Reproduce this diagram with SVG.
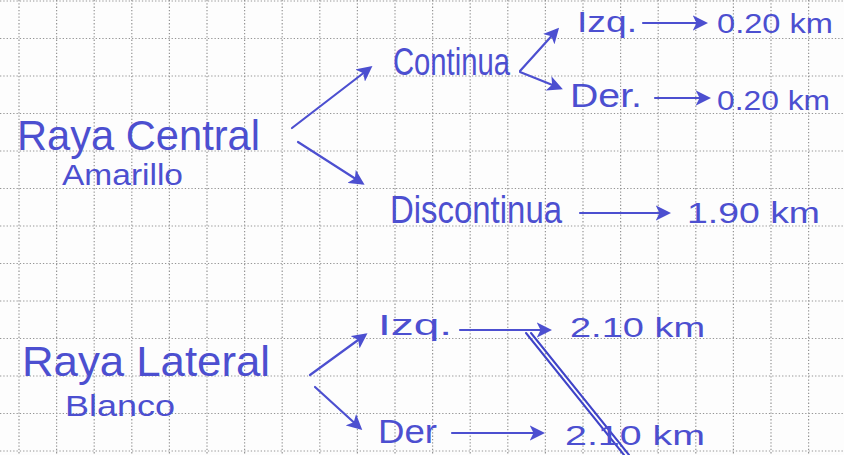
<svg xmlns="http://www.w3.org/2000/svg" width="844" height="455" viewBox="0 0 844 455">
<defs>
<style>
.grid{stroke:#959595;stroke-width:1.2;stroke-dasharray:1.3 2;fill:none}
.t{font-family:"Liberation Sans","DejaVu Sans",sans-serif;fill:#4c4fd0;}
.c{stroke:#4c4fd0;stroke-width:2.2;fill:none;stroke-linecap:round;marker-end:url(#ah)}
.s{stroke:#3f43c8;stroke-width:2;fill:none;stroke-linecap:round}
</style>
<marker id="ah" viewBox="0 0 10 10" refX="8" refY="5" markerWidth="7" markerHeight="7" markerUnits="strokeWidth" orient="auto">
<path d="M0,0 L10,5 L0,10 L2.5,5 Z" fill="#4c4fd0"/>
</marker>
</defs>
<rect width="844" height="455" fill="#fdfdfd"/>
<g id="grid">
<path class="grid" d="M19 0V455M56.6 0V455M94.2 0V455M131.8 0V455M169.4 0V455M207 0V455M244.6 0V455M282.2 0V455M319.8 0V455M357.4 0V455M395 0V455M432.6 0V455M470.2 0V455M507.8 0V455M545.4 0V455M583 0V455M620.6 0V455M658.2 0V455M695.8 0V455M733.4 0V455M771 0V455M808.6 0V455"/>
<path class="grid" d="M0 1H844M0 38.5H844M0 76H844M0 113.5H844M0 151H844M0 188.5H844M0 226H844M0 263.5H844M0 301H844M0 338.5H844M0 376H844M0 413.5H844M0 451H844"/>
</g>
<g id="connectors">
<line class="c" x1="292" y1="128" x2="370" y2="68"/>
<line class="c" x1="298" y1="142" x2="362" y2="183"/>
<line class="c" x1="520" y1="71" x2="557" y2="30"/>
<line class="c" x1="520" y1="72" x2="560" y2="88"/>
<line class="c" x1="643" y1="23" x2="705" y2="23"/>
<line class="c" x1="655" y1="98" x2="708" y2="98"/>
<line class="c" x1="580" y1="213" x2="668" y2="213"/>
<line class="c" x1="310" y1="375" x2="365" y2="335"/>
<line class="c" x1="315" y1="387" x2="360" y2="428"/>
<line class="c" x1="460" y1="330" x2="549" y2="330"/>
<line class="c" x1="452" y1="433" x2="542" y2="433"/>
<path class="s" d="M526 333 L624 455"/>
<path class="s" d="M531 333 L629 455"/>
</g>
<g id="raya-central"><text class="t" x="17" y="150" font-size="43" textLength="243" lengthAdjust="spacingAndGlyphs">Raya Central</text>
<text class="t" x="62" y="185" font-size="30" textLength="121" lengthAdjust="spacingAndGlyphs">Amarillo</text></g>
<g id="continua"><text class="t" x="393" y="75" font-size="38" textLength="117" lengthAdjust="spacingAndGlyphs">Continua</text></g>
<g id="izq1"><text class="t" x="577" y="32" font-size="30" textLength="60" lengthAdjust="spacingAndGlyphs">Izq.</text></g>
<g id="km1"><text class="t" x="717" y="33" font-size="28" textLength="116" lengthAdjust="spacingAndGlyphs">0.20 km</text></g>
<g id="der1"><text class="t" x="570" y="107" font-size="34" textLength="72" lengthAdjust="spacingAndGlyphs">Der.</text></g>
<g id="km2"><text class="t" x="717" y="110" font-size="28" textLength="113" lengthAdjust="spacingAndGlyphs">0.20 km</text></g>
<g id="discontinua"><text class="t" x="390" y="223" font-size="38" textLength="172" lengthAdjust="spacingAndGlyphs">Discontinua</text></g>
<g id="km3"><text class="t" x="687" y="223" font-size="30" textLength="133" lengthAdjust="spacingAndGlyphs">1.90 km</text></g>
<g id="raya-lateral"><text class="t" x="22" y="376" font-size="43" textLength="248" lengthAdjust="spacingAndGlyphs">Raya Lateral</text>
<text class="t" x="65" y="416" font-size="30" textLength="110" lengthAdjust="spacingAndGlyphs">Blanco</text></g>
<g id="izq2"><text class="t" x="378" y="335" font-size="30" textLength="74" lengthAdjust="spacingAndGlyphs">Izq.</text></g>
<g id="km4"><text class="t" x="570" y="337" font-size="28" textLength="135" lengthAdjust="spacingAndGlyphs">2.10 km</text></g>
<g id="der2"><text class="t" x="378" y="443" font-size="34" textLength="59" lengthAdjust="spacingAndGlyphs">Der</text></g>
<g id="km5"><text class="t" x="565" y="445" font-size="28" textLength="140" lengthAdjust="spacingAndGlyphs">2.10 km</text></g>
</svg>
